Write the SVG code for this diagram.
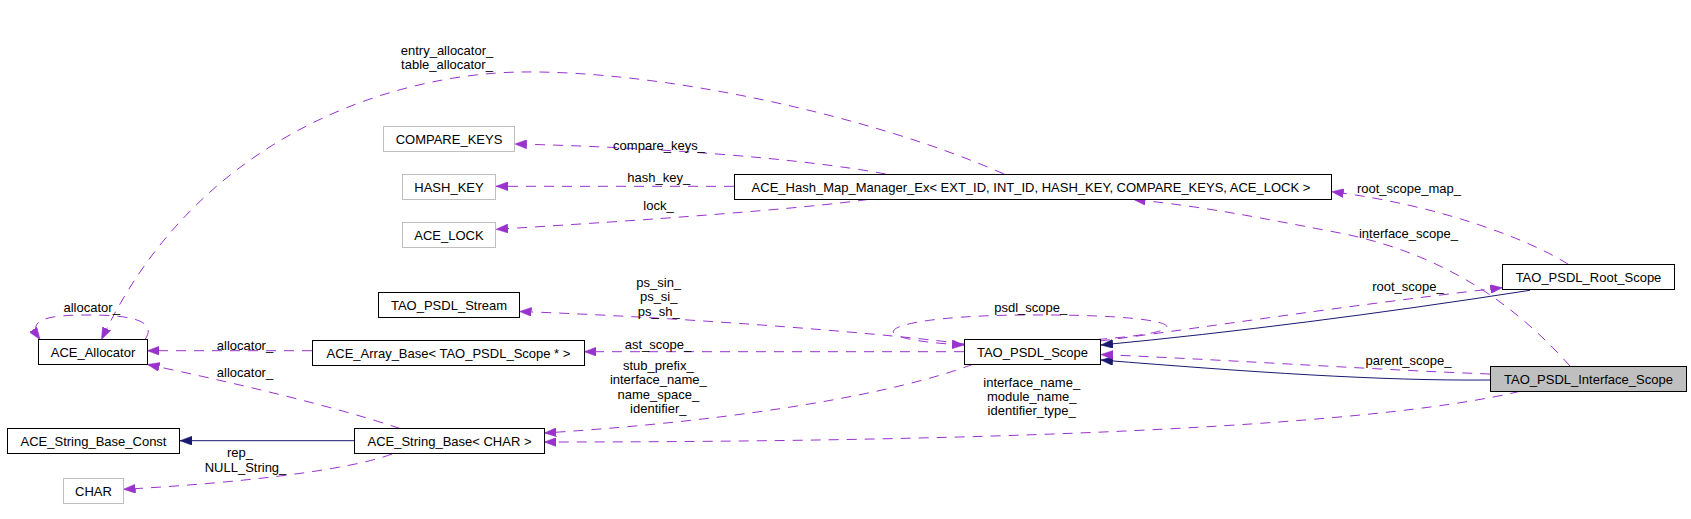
<svg xmlns="http://www.w3.org/2000/svg" width="1691" height="519" viewBox="0 0 1691 519">
<style>
  text { font-family: "Liberation Sans", Arial, sans-serif; font-size: 13px; fill: #000; }
  .lbl { text-anchor: middle; }
  .node rect { fill: #fff; stroke: #000; stroke-width: 1; }
  .node.ext rect { stroke: #bfbfbf; }
  .node.cur rect { fill: #bfbfbf; stroke: #000; }
  .node text { text-anchor: middle; }
  .dep { fill: none; stroke: #9a32cd; stroke-width: 1; stroke-dasharray: 10,8; marker-end: url(#ap); }
  .inh { fill: none; stroke: #191970; stroke-width: 1; marker-end: url(#an); }
</style>
<defs>
  <marker id="ap" viewBox="0 0 12 9" refX="12" refY="4.5" markerWidth="12" markerHeight="9" markerUnits="userSpaceOnUse" orient="auto">
    <path d="M0,0 L12,4.5 L0,9 z" fill="#9a32cd" stroke="#9a32cd" stroke-width="0.5"/>
  </marker>
  <marker id="an" viewBox="0 0 12 9" refX="12" refY="4.5" markerWidth="12" markerHeight="9" markerUnits="userSpaceOnUse" orient="auto">
    <path d="M0,0 L12,4.5 L0,9 z" fill="#191970" stroke="#191970" stroke-width="0.5"/>
  </marker>
</defs>
<rect x="0" y="0" width="1691" height="519" fill="#fff"/>

<g id="connectors">
  <path class="dep" d="M1004,174 C 870,115 660,70 520,72 C 400,74 200,130 101.5,339.5"/>
  <path class="dep" d="M885.7,174 C 800,158 650,147 514.7,144"/>
  <path class="dep" d="M734,186.3 L 496,186.3"/>
  <path class="dep" d="M867.8,199.5 C 800,209 650,220 496,229.3"/>
  <path class="dep" d="M1568.3,264.3 C 1530,240 1440,205 1331.7,191.7"/>
  <path class="dep" d="M1570,366 C 1520,310 1450,255 1340,233 C 1270,220 1210,207 1133.5,199.5"/>
  <path class="dep" d="M964,344 C 900,335 700,318 519.5,311.5"/>
  <path class="dep" d="M1097,339.5 C 1220,330 1170,314 1030,315 C 890,315 840,338 964,345"/>
  <path class="dep" d="M964,351.7 L 584.4,351.7"/>
  <path class="dep" d="M312,350.7 L 147.3,350.7"/>
  <path class="dep" d="M400,428.5 C 330,405 230,382 147.5,364.5"/>
  <path class="dep" d="M145,339.5 C 160,318 120,315 90,315 C 50,315 25,318 40,339.5"/>
  <path class="inh" d="M354,440.7 L 180,440.7"/>
  <path class="dep" d="M392,454 C 350,470 240,483 123.5,489.3"/>
  <path class="dep" d="M972.7,364.3 C 900,392 750,420 544.3,433"/>
  <path class="dep" d="M1520,391.3 C 1400,420 1100,442 544.3,442"/>
  <path class="inh" d="M1530,290.3 Q 1300,326 1100.9,345"/>
  <path class="dep" d="M1100,341 C 1200,328 1350,305 1502.3,287.7"/>
  <path class="inh" d="M1490,380 C 1380,381 1250,372 1100.9,360"/>
  <path class="dep" d="M1490,374 C 1380,370 1250,361 1100.9,354.5"/>

  <text class="lbl" x="447" y="55">entry_allocator_</text>
  <text class="lbl" x="447" y="69">table_allocator_</text>
  <text class="lbl" x="659" y="150">compare_keys_</text>
  <text class="lbl" x="658.7" y="181.7">hash_key_</text>
  <text class="lbl" x="658.5" y="210">lock_</text>
  <text class="lbl" x="1409" y="193.3">root_scope_map_</text>
  <text class="lbl" x="1408.5" y="238.3">interface_scope_</text>
  <text class="lbl" x="658.7" y="286.7">ps_sin_</text>
  <text class="lbl" x="658.7" y="301.2">ps_si_</text>
  <text class="lbl" x="658.7" y="315.7">ps_sh_</text>
  <text class="lbl" x="1030.7" y="311.7">psdl_scope_</text>
  <text class="lbl" x="1408" y="290.7">root_scope_</text>
  <text class="lbl" x="91.7" y="311.7">allocator_</text>
  <text class="lbl" x="245" y="349.5">allocator_</text>
  <text class="lbl" x="658" y="349.3">ast_scope_</text>
  <text class="lbl" x="245" y="377.3">allocator_</text>
  <text class="lbl" x="658.3" y="369.5">stub_prefix_</text>
  <text class="lbl" x="658.3" y="384">interface_name_</text>
  <text class="lbl" x="658.3" y="398.5">name_space_</text>
  <text class="lbl" x="658.3" y="413">identifier_</text>
  <text class="lbl" x="1031.7" y="386.7">interface_name_</text>
  <text class="lbl" x="1031.7" y="401">module_name_</text>
  <text class="lbl" x="1031.7" y="415">identifier_type_</text>
  <text class="lbl" x="1408.5" y="365">parent_scope_</text>
  <text class="lbl" x="240" y="457.3">rep_</text>
  <text class="lbl" x="245.5" y="471.7">NULL_String_</text>
</g>

<g id="n_ace_allocator" class="node"><rect x="38.5" y="339.5" width="109" height="25"/><text x="93" y="356.5">ACE_Allocator</text></g>
<g id="n_compare_keys" class="node ext"><rect x="383.5" y="126.5" width="131" height="25"/><text x="449" y="143.5">COMPARE_KEYS</text></g>
<g id="n_hash_key" class="node ext"><rect x="402.5" y="174.5" width="93" height="25"/><text x="449" y="191.5">HASH_KEY</text></g>
<g id="n_ace_lock" class="node ext"><rect x="402.5" y="222.5" width="93" height="25"/><text x="449" y="239.5">ACE_LOCK</text></g>
<g id="n_hash_map" class="node"><rect x="734.5" y="174.5" width="597" height="25"/><text x="1031" y="191.5">ACE_Hash_Map_Manager_Ex&lt; EXT_ID, INT_ID, HASH_KEY, COMPARE_KEYS, ACE_LOCK &gt;</text></g>
<g id="n_psdl_stream" class="node"><rect x="378.5" y="292.5" width="141" height="25"/><text x="449" y="309.5">TAO_PSDL_Stream</text></g>
<g id="n_array_base" class="node"><rect x="312.5" y="340.5" width="272" height="25"/><text x="448.5" y="357.5">ACE_Array_Base&lt; TAO_PSDL_Scope * &gt;</text></g>
<g id="n_psdl_scope" class="node"><rect x="964.5" y="339.5" width="136" height="25"/><text x="1032.5" y="356.5">TAO_PSDL_Scope</text></g>
<g id="n_string_base_const" class="node"><rect x="7.5" y="428.5" width="172" height="25"/><text x="93.5" y="445.5">ACE_String_Base_Const</text></g>
<g id="n_string_base" class="node"><rect x="354.5" y="428.5" width="190" height="25"/><text x="449.5" y="445.5">ACE_String_Base&lt; CHAR &gt;</text></g>
<g id="n_char" class="node ext"><rect x="63.5" y="478.5" width="60" height="25"/><text x="93.5" y="495.5">CHAR</text></g>
<g id="n_root_scope" class="node"><rect x="1502.5" y="264.5" width="172" height="25"/><text x="1588.5" y="281.5">TAO_PSDL_Root_Scope</text></g>
<g id="n_interface_scope" class="node cur"><rect x="1490.5" y="366.5" width="196" height="25"/><text x="1588.5" y="383.5">TAO_PSDL_Interface_Scope</text></g>
</svg>
